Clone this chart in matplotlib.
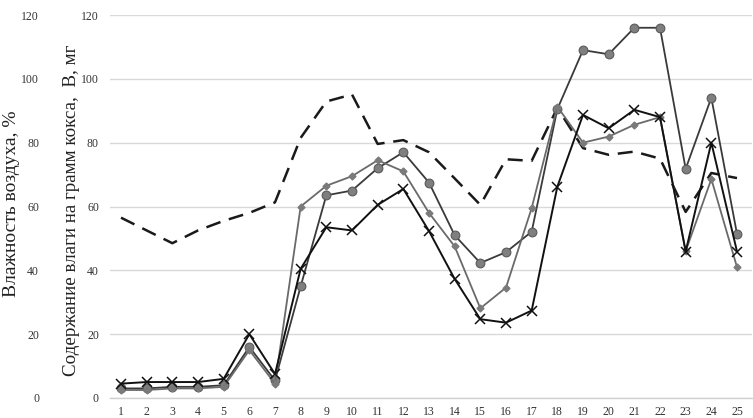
import matplotlib
matplotlib.use("Agg")
import matplotlib.pyplot as plt

x = list(range(1, 26))
humidity = [56.5, 52.5, 48.5, 52.5, 55.5, 58, 61.3, 81.5, 92.9, 95.1, 79.6, 80.8, 77, 68.8,
            60.5, 74.8, 74.3, 90.9, 78.3, 76.2, 77.2, 75, 58.3, 70.5, 68.9]
circles = [3, 3, 3.5, 3.5, 4, 16, 5.5, 35, 63.5, 65, 72, 77, 67.5, 51, 42.3, 45.7, 52.1,
           90.5, 109, 107.7, 116, 116, 71.8, 94.1, 51.4]
diamonds = [2.5, 2.5, 3, 3, 3.5, 15, 4.5, 60, 66.5, 69.5, 74.5, 71, 58, 47.5, 28.1, 34.6,
            59.5, 91.3, 80, 81.9, 85.6, 88, 46, 68.6, 41]
crosses = [4.5, 5, 5, 5, 6, 20, 7.5, 40.5, 53.5, 52.5, 60.5, 65.5, 52.3, 37.3, 24.7, 23.6,
           27.4, 66.2, 88.7, 84.5, 90.3, 88, 45.9, 80, 45.9]
yticks = [0, 20, 40, 60, 80, 100, 120]
label_outer = "Влажность воздуха, %"
label_inner = "Содержание влаги на грамм кокса,  В, мг"

serif = ["Liberation Serif", "DejaVu Serif"]
plt.rcParams['font.family'] = serif

fig = plt.figure(figsize=(7.53, 4.18), dpi=100)
ax = fig.add_axes([110/753, 1 - 398/418, 642/753, (398 - 15)/418])

ax.plot(x, humidity, color="#1a1a1a", lw=1.8, ls=(0, (6, 3.5)), zorder=2)
ax.plot(x, circles, color="#3a3a3a", lw=1.3, marker="o", ms=6.3,
        markerfacecolor="#7f7f7f", markeredgecolor="#5a5a5a", markeredgewidth=0.8, zorder=3)
ax.plot(x, diamonds, color="#6a6a6a", lw=1.3, marker="D", ms=3.5,
        markerfacecolor="#7a7a7a", markeredgecolor="#7a7a7a", zorder=4)
ax.plot(x, crosses, color="#111111", lw=1.4, marker="x", ms=7, markeredgewidth=1.1, zorder=5)

ax.set_xlim(1 - 11/25.67, 25 + 15/25.67)
ax.set_ylim(0, 120)
ax.set_xticks(x)
ax.set_xticklabels([str(v) for v in x], fontsize=8.5, color="#333333")
ax.set_yticks(yticks)
ax.set_yticklabels([str(v) for v in yticks], fontsize=8.5, color="#333333")
ax.tick_params(axis="both", length=0)
ax.tick_params(axis="y", pad=8)
ax.tick_params(axis="x", pad=6)
ax.grid(axis="y", color="#d9d9d9", lw=1)
ax.set_axisbelow(True)
for s in ["top", "right", "left"]:
    ax.spines[s].set_visible(False)
ax.spines["bottom"].set_color("#d0d0d0")
ax.spines["bottom"].set_linewidth(1)

sec = ax.secondary_yaxis(-71/642)
sec.set_yticks(yticks)
sec.set_yticklabels([str(v) for v in yticks], fontsize=8.5, color="#333333")
sec.tick_params(length=0, pad=0)
sec.spines["left"].set_visible(False)

fig.text(12/753, 1 - 204/418, label_outer, rotation=90, ha="center", va="center",
         fontsize=14, color="#222222")
fig.text(72/753, 1 - 210/418, label_inner, rotation=90, ha="center", va="center",
         fontsize=13.7, color="#222222")

fig.savefig("out.png", dpi=100, facecolor="white")
